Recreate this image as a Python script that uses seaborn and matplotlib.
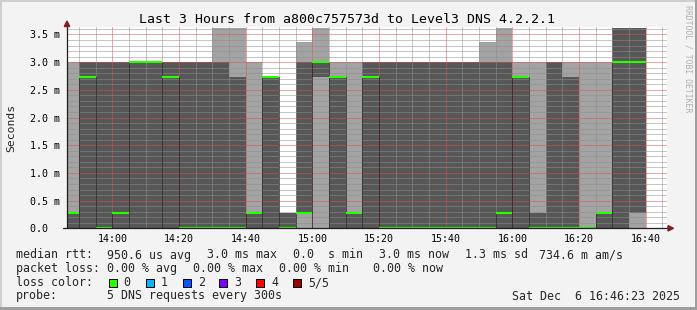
import matplotlib
matplotlib.use("Agg")
import matplotlib.pyplot as plt
from matplotlib.lines import Line2D
from matplotlib.patches import Polygon, Rectangle
from matplotlib.ticker import MultipleLocator, FixedLocator
import numpy as np
import pandas as pd
import seaborn as sns

# ---------------- data ----------------
title = "Last 3 Hours from a800c757573d to Level3 DNS 4.2.2.1"
graph_start = "13:46:23"
graph_end = "16:46:23"
step_minutes = 5
interval_start = ["13:45", "13:50", "13:55", "14:00", "14:05", "14:10", "14:15",
                  "14:20", "14:25", "14:30", "14:35", "14:40", "14:45", "14:50",
                  "14:55", "15:00", "15:05", "15:10", "15:15", "15:20", "15:25",
                  "15:30", "15:35", "15:40", "15:45", "15:50", "15:55", "16:00",
                  "16:05", "16:10", "16:15", "16:20", "16:25", "16:30", "16:35"]
# sorted ping rtts per interval (ms)
ping1 = [0, 0, 0, 0, 0, 0, 0, 0, 0, 0, 0, 0, 0, 0, 0, 0, 0, 0, 0, 0, 0, 0, 0, 0,
         0, 0, 0, 0, 0, 0, 0, 0, 0, 0, 0]
ping2 = [0, 0, 0, 0, 0, 0, 0, 0, 0, 0, 0, 0, 0, 0, 0.28, 2.74, 0, 0, 0, 0, 0, 0, 0, 0,
         0, 0, 0, 0, 0, 0, 0, 0, 0, 0, 0.28]
median = [0.28, 2.74, 0, 0.28, 3.0, 3.0, 2.74, 0, 0, 0, 0, 0.28, 2.74, 0, 0.28, 3.0,
          2.74, 0.28, 2.74, 0, 0, 0, 0, 0, 0, 0, 0.28, 2.74, 0, 0, 0, 0, 0.28, 3.0, 3.0]
ping4 = [0.28, 3.0, 3.0, 3.0, 3.0, 3.0, 3.0, 3.0, 3.0, 3.0, 2.74, 0.28, 2.74, 0.28,
         3.0, 3.0, 2.74, 0.28, 3.0, 3.0, 3.0, 3.0, 3.0, 3.0, 3.0, 3.0, 3.0, 2.74,
         0.28, 3.0, 2.74, 0, 0.28, 3.62, 3.62]
ping5 = [3.0, 3.0, 3.0, 3.0, 3.0, 3.0, 3.0, 3.0, 3.0, 3.62, 3.62, 3.0, 2.74, 0.28,
         3.37, 3.62, 3.0, 3.0, 3.0, 3.0, 3.0, 3.0, 3.0, 3.0, 3.0, 3.37, 3.62, 3.0,
         3.0, 3.0, 3.0, 3.0, 3.0, 3.62, 3.62]

y_ticks = [0.0, 0.5, 1.0, 1.5, 2.0, 2.5, 3.0, 3.5]
y_tick_labels = ["0.0  ", "0.5 m", "1.0 m", "1.5 m", "2.0 m", "2.5 m", "3.0 m", "3.5 m"]
x_tick_labels = ["14:00", "14:20", "14:40", "15:00", "15:20", "15:40", "16:00", "16:20", "16:40"]
y_top = 3.63

row_labels = ["median rtt:", "packet loss:", "loss color:", "probe:"]
rtt_stats = ["950.6 us avg", "3.0 ms max", "0.0  s min", "3.0 ms now", "1.3 ms sd", "734.6 m am/s"]
loss_stats = ["0.00 % avg", "0.00 % max", "0.00 % min", "0.00 % now"]
loss_levels = ["0", "1", "2", "3", "4", "5/5"]
loss_colors = ["#26ff00", "#00b8ff", "#0059ff", "#7e00ff", "#ff0000", "#a10000"]
probe_text = "5 DNS requests every 300s"
timestamp = "Sat Dec  6 16:46:23 2025"
watermark = "RRDTOOL / TOBI OETIKER"

# ---------------- style / layout ----------------
W, H = 697, 310
MONO = ["DejaVu Sans Mono", "DejaVu Sans"]
sns.set_theme(style="white")
plt.rcParams["font.family"] = MONO

def hm(s):
    parts = [float(p) for p in s.split(":")]
    return parts[0] * 60 + parts[1] + (parts[2] / 60 if len(parts) > 2 else 0)

def fx(x):
    return x / W

def fy(y):
    return 1 - y / H

DARK = "#575757"
LIGHT = "#a3a3a3"
GRID_MINOR = (0.56, 0.56, 0.56, 0.7)
GRID_MAJOR = (0.87, 0.31, 0.31, 0.55)

fig = plt.figure(figsize=(W / 100, H / 100), dpi=100)
fig.patch.set_facecolor("#f3f3f3")

ax_l, ax_r, ax_t, ax_b = 67, 667, 27.3, 228.3
ax = fig.add_axes([fx(ax_l), fy(ax_b), (ax_r - ax_l) / W, (ax_b - ax_t) / H])
ax.set_facecolor("white")

t = np.array([hm(s) for s in interval_start])
edges = np.append(t, t[-1] + step_minutes)
p1, p2, p3, p4, p5 = (np.array(a, dtype=float) for a in (ping1, ping2, median, ping4, ping5))

def layer(lo, hi, color):
    ax.fill_between(edges, np.append(lo, lo[-1]), np.append(hi, hi[-1]),
                    step="post", color=color, linewidth=0, zorder=1)

layer(p1, p2, LIGHT)
layer(p2, p4, DARK)
layer(p4, p5, LIGHT)

# transitions of median (thin dotted dark lines)
for i in range(1, len(t)):
    if abs(p3[i] - p3[i - 1]) > 0.1:
        ax.vlines(t[i], 0, max(p3[i], p3[i - 1]), colors="black",
                  linestyles=(0, (1, 1)), linewidth=0.72, zorder=3)

# median line (loss color 0)
seg = pd.DataFrame({
    "x": np.concatenate([t, t + step_minutes]),
    "y": np.concatenate([p3, p3]),
    "seg": np.concatenate([np.arange(len(t)), np.arange(len(t))]),
})
sns.lineplot(data=seg, x="x", y="y", units="seg", estimator=None, color=loss_colors[0],
             linewidth=1.5, ax=ax, legend=False, zorder=4, solid_capstyle="butt")

ax.set_xlim(hm(graph_start), hm(graph_end))
ax.set_ylim(0, y_top)
ax.set_xlabel("")
ax.set_ylabel("")

ax.xaxis.set_major_locator(FixedLocator([hm(s) for s in x_tick_labels]))
ax.set_xticklabels(x_tick_labels)
ax.xaxis.set_minor_locator(MultipleLocator(step_minutes))
ax.yaxis.set_major_locator(FixedLocator(y_ticks))
ax.set_yticklabels(y_tick_labels)
ax.yaxis.set_minor_locator(MultipleLocator(0.1))

ax.set_axisbelow(False)
ax.grid(which="minor", color=GRID_MINOR, linestyle=(0, (1, 1)), linewidth=0.72)
ax.grid(which="major", color=GRID_MAJOR, linestyle=(0, (1, 1)), linewidth=0.72)

ax.tick_params(which="major", length=2.2, width=0.72, color="#1f1f1f", direction="out",
               labelsize=7.2, labelcolor="black", pad=2.5)
ax.tick_params(which="minor", length=1.4, width=0.72, color="#1f1f1f", direction="out")
ax.tick_params(axis="x", which="major", pad=1.8)
for s in ax.spines.values():
    s.set_visible(False)

# axis lines and arrows
fig.add_artist(Line2D([fx(ax_l), fx(ax_l)], [fy(ax_b), fy(26)], color="#1f1f1f", lw=0.9, zorder=10))
fig.add_artist(Line2D([fx(63), fx(668)], [fy(ax_b), fy(ax_b)], color="#1f1f1f", lw=0.9, zorder=10))
fig.add_artist(Polygon([(fx(64.3), fy(26.5)), (fx(69.7), fy(26.5)), (fx(67), fy(21))],
                       closed=True, color="#7f1f1f", transform=fig.transFigure, zorder=11))
fig.add_artist(Polygon([(fx(668), fy(ax_b - 2.7)), (fx(668), fy(ax_b + 2.7)), (fx(673.5), fy(ax_b))],
                       closed=True, color="#7f1f1f", transform=fig.transFigure, zorder=11))

# border shading
fig.add_artist(Rectangle((0, fy(2)), 1, 2 / H, transform=fig.transFigure, color="#cfcfcf", lw=0))
fig.add_artist(Rectangle((0, 0), 2 / W, 1, transform=fig.transFigure, color="#cfcfcf", lw=0))
fig.add_artist(Rectangle((fx(695), 0), 2 / W, 1, transform=fig.transFigure, color="#9e9e9e", lw=0))
fig.add_artist(Rectangle((0, 0), 1, 3 / H, transform=fig.transFigure, color="#9e9e9e", lw=0))

# texts
fig.text(fx(346.6), fy(19.3), title, ha="center", va="center", fontsize=9.5, color="black")
fig.text(fx(11), fy(127.7), "Seconds", rotation=90, ha="center", va="center", fontsize=8.2)
fig.text(fx(688), fy(59), watermark, rotation=-90, ha="center", va="center",
         fontsize=5.9, color="#b0b0b0")

LFS = 8.4
row_y = [255, 268.3, 282.7, 296]
for lab, yy in zip(row_labels, row_y):
    fig.text(fx(16), fy(yy), lab, ha="left", va="center", fontsize=LFS)
for txt, xx in zip(rtt_stats, [107.3, 207.3, 293.3, 379, 465, 539.3]):
    fig.text(fx(xx), fy(row_y[0]), txt, ha="left", va="center", fontsize=LFS)
for txt, xx in zip(loss_stats, [107.3, 193.3, 279.3, 373.3]):
    fig.text(fx(xx), fy(row_y[1]), txt, ha="left", va="center", fontsize=LFS)
for lvl, col, bx in zip(loss_levels, loss_colors, [108.7, 145.7, 182.7, 219.3, 256.3, 293.3]):
    fig.add_artist(Rectangle((fx(bx), fy(row_y[2] + 4)), 8 / W, 8 / H, transform=fig.transFigure,
                             facecolor=col, edgecolor="black", lw=0.72))
    fig.text(fx(bx + 15), fy(row_y[2]), lvl, ha="left", va="center", fontsize=LFS)
fig.text(fx(107.3), fy(row_y[3]), probe_text, ha="left", va="center", fontsize=LFS)
fig.text(fx(680), fy(row_y[3]), timestamp, ha="right", va="center", fontsize=LFS)

fig.savefig("out.png", dpi=100, facecolor=fig.get_facecolor())
